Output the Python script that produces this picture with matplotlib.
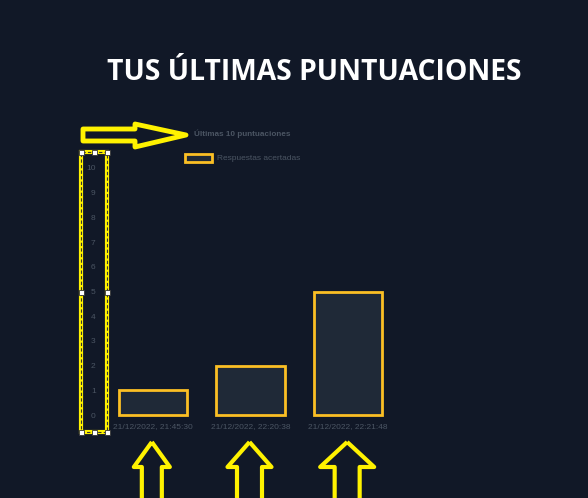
import matplotlib.pyplot as plt
from matplotlib.patches import Polygon, Rectangle

# data
fechas = ["21/12/2022, 21:45:30", "21/12/2022, 22:20:38", "21/12/2022, 22:21:48"]
aciertos = [1, 2, 5]
yticks = list(range(0, 11))

W, H = 588, 498
bg = "#111827"
gris = "#4b5563"
amarillo = "#fbbf24"
marca = "#fff200"

plt.rcParams['font.family'] = ['Liberation Sans', 'DejaVu Sans']

fig = plt.figure(figsize=(W / 100, H / 100), dpi=100, facecolor=bg)
ax = fig.add_axes([104 / W, 83 / H, 293 / W, 247 / H])
ax.set_facecolor(bg)

ax.bar(range(len(fechas)), aciertos, width=0.7, color="#1f2937",
       edgecolor=amarillo, linewidth=2, clip_on=False, label="Respuestas acertadas")
ax.set_xlim(-0.5, len(fechas) - 0.5)
ax.set_ylim(0, 10)
ax.set_yticks(yticks)
ax.set_xticks(range(len(fechas)))
ax.set_xticklabels(fechas)
ax.tick_params(length=0, colors=gris, labelsize=6)
ax.tick_params(axis='y', pad=6)
ax.tick_params(axis='x', pad=6)
for s in ax.spines.values():
    s.set_visible(False)

fig.text(314 / W, 1 - 72 / H, "TUS ÚLTIMAS PUNTUACIONES", color="white",
         fontsize=20.3, fontweight="bold", ha="center", va="center",
         family=['Open Sans', 'DejaVu Sans'])

# legend (title + entry)
fig.text(242 / W, 1 - 134 / H, "Últimas 10 puntuaciones", color=gris,
         fontsize=5.9, fontweight="bold", ha="center", va="center")
fig.add_artist(Rectangle((185 / W, 1 - 162 / H), 27 / W, 8 / H, transform=fig.transFigure,
                         facecolor="#1f2937", edgecolor=amarillo, linewidth=2))
fig.text(217 / W, 1 - 158 / H, "Respuestas acertadas", color=gris,
         fontsize=6, ha="left", va="center")


def px(pts):
    return [(x / W, 1 - y / H) for x, y in pts]


def add_poly(pts, lw=3):
    fig.add_artist(Polygon(px(pts), closed=True, fill=False, edgecolor=marca,
                           linewidth=lw, transform=fig.transFigure, joinstyle="round"))


# right arrow pointing at the legend title
add_poly([(83, 129), (135, 129), (135, 124), (186, 135), (135, 147), (135, 141), (83, 141)], lw=3.5)

# selection box around y axis
fig.add_artist(Rectangle((81 / W, 1 - 432 / H), 26 / W, 280 / H, transform=fig.transFigure,
                         fill=False, edgecolor=marca, linewidth=3))
fig.add_artist(Rectangle((81 / W, 1 - 432 / H), 26 / W, 280 / H, transform=fig.transFigure,
                         fill=False, edgecolor="#333333", linewidth=0.8, linestyle=(0, (3, 2))))
for hx in (81, 94, 107):
    for hy in (152, 292, 432):
        if hx == 94 and hy == 292:
            continue
        fig.add_artist(Rectangle(((hx - 2.5) / W, 1 - (hy + 2.5) / H), 5 / W, 5 / H,
                                 transform=fig.transFigure, facecolor="white",
                                 edgecolor="#333333", linewidth=0.6))

# up arrows under each label
fig.canvas.draw()
anchos = [(18, 10), (22, 12.5), (27, 12.5)]
for i, (hw, sw) in enumerate(anchos):
    cx = ax.transData.transform((i, 0))[0] - 1
    add_poly([(cx, 442), (cx + hw, 467), (cx + sw, 467), (cx + sw, 500),
              (cx - sw, 500), (cx - sw, 467), (cx - hw, 467)])

fig.savefig("out.png", dpi=100, facecolor=bg)
